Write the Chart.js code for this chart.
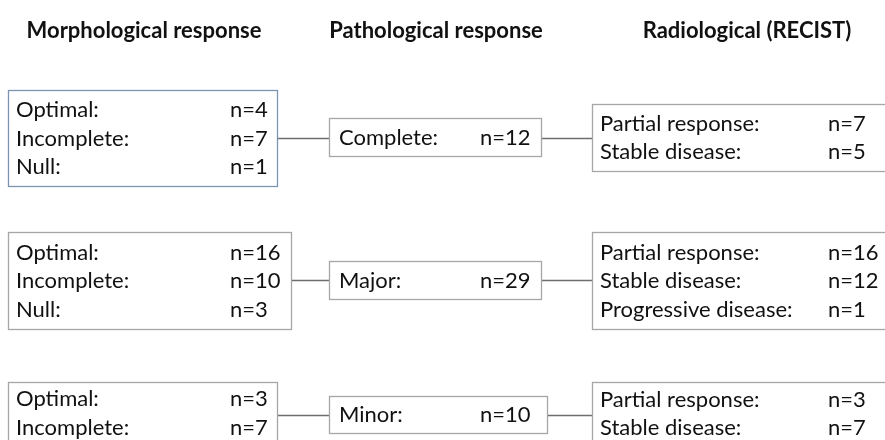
<!DOCTYPE html>
<html>
<head>
<meta charset="utf-8">
<script src="https://cdn.jsdelivr.net/npm/chart.js@4.4.1/dist/chart.umd.min.js"></script>
<style>
  html, body { margin: 0; padding: 0; background: #fff; }
  #wrap { width: 885px; height: 440px; position: relative; }
</style>
</head>
<body>
<div id="wrap"><canvas id="flow"></canvas></div>
<script>
// --- data ---
const stageTitles = ['Morphological response', 'Pathological response', 'Radiological (RECIST)'];
const morphoLabels = ['Optimal:', 'Incomplete:', 'Null:'];
const morphoCounts = [[4, 7, 1], [16, 10, 3], [3, 7, 0]];
const pathoLabels = ['Complete:', 'Major:', 'Minor:'];
const pathoCounts = [12, 29, 10];
const recistLabels = ['Partial response:', 'Stable disease:', 'Progressive disease:'];
const recistCounts = [[7, 5], [16, 12, 1], [3, 7]];

// --- layout (in chart units, 1 unit = 1 px of the figure) ---
const titleX = [144, 436, 747];
const titleY = 29;
const LINE_PITCH = 28.5;
const rows = [
  { left: [8, 277, 90, 186], mid: [329, 541, 118, 156], right: [592, 900, 104, 171], link: 137.5 },
  { left: [8, 291, 232, 329], mid: [329, 541, 261, 299], right: [592, 900, 232, 329], link: 280 },
  { left: [8, 277, 382, 472], mid: [329, 547, 396, 433], right: [592, 900, 382, 445], link: 414.5 }
];
const colText = { left: [16, 230], mid: [339, 480], right: [600, 828] };

const flowPlugin = {
  id: 'flowBoxes',
  afterDraw(chart) {
    const { ctx, scales: { x, y } } = chart;
    const px = v => Math.round(x.getPixelForValue(v)) + 0.5;
    const py = v => Math.round(y.getPixelForValue(v)) + 0.5;
    ctx.save();

    // titles
    ctx.fillStyle = '#111';
    ctx.font = 'bold 22px Lato';
    ctx.textAlign = 'center';
    const capT = ctx.measureText('H').actualBoundingBoxAscent;
    stageTitles.forEach((t, i) => {
      ctx.fillText(t, x.getPixelForValue(titleX[i]), y.getPixelForValue(titleY) + capT / 2);
    });

    ctx.font = '22px Lato';
    ctx.textAlign = 'left';
    const cap = ctx.measureText('H').actualBoundingBoxAscent;

    const box = (b, color) => {
      ctx.strokeStyle = color;
      ctx.lineWidth = 1.3;
      ctx.strokeRect(px(b[0]), py(b[2]), px(b[1]) - px(b[0]), py(b[3]) - py(b[2]));
    };
    const lines = (b, labels, counts, cols) => {
      const mid = (b[2] + b[3]) / 2;
      counts.forEach((n, k) => {
        const cy = mid + (k - (counts.length - 1) / 2) * LINE_PITCH;
        const base = y.getPixelForValue(cy) + cap / 2;
        ctx.fillStyle = '#111';
        ctx.fillText(labels[k], x.getPixelForValue(cols[0]), base);
        ctx.fillText('n=' + n, x.getPixelForValue(cols[1]), base);
      });
    };

    rows.forEach((r, i) => {
      // connectors
      ctx.strokeStyle = '#6e6e6e';
      ctx.lineWidth = 1.4;
      ctx.beginPath();
      ctx.moveTo(px(r.left[1]), py(r.link));
      ctx.lineTo(px(r.mid[0]), py(r.link));
      ctx.moveTo(px(r.mid[1]), py(r.link));
      ctx.lineTo(px(r.right[0]), py(r.link));
      ctx.stroke();

      box(r.left, i === 0 ? '#7d93b4' : '#a6a6a6');
      box(r.mid, '#a6a6a6');
      box(r.right, '#a6a6a6');

      lines(r.left, morphoLabels, morphoCounts[i], colText.left);
      lines(r.mid, [pathoLabels[i]], [pathoCounts[i]], colText.mid);
      lines(r.right, recistLabels, recistCounts[i], colText.right);
    });
    ctx.restore();
  }
};

new Chart(document.getElementById('flow'), {
  type: 'scatter',
  data: { datasets: [{ data: [], pointRadius: 0 }] },
  options: {
    responsive: true,
    maintainAspectRatio: false,
    animation: false,
    layout: { padding: 0 },
    plugins: { legend: { display: false }, tooltip: { enabled: false } },
    scales: {
      x: { type: 'linear', min: 0, max: 885, display: false },
      y: { type: 'linear', min: 0, max: 440, reverse: true, display: false }
    }
  },
  plugins: [flowPlugin]
});
</script>
</body>
</html>
